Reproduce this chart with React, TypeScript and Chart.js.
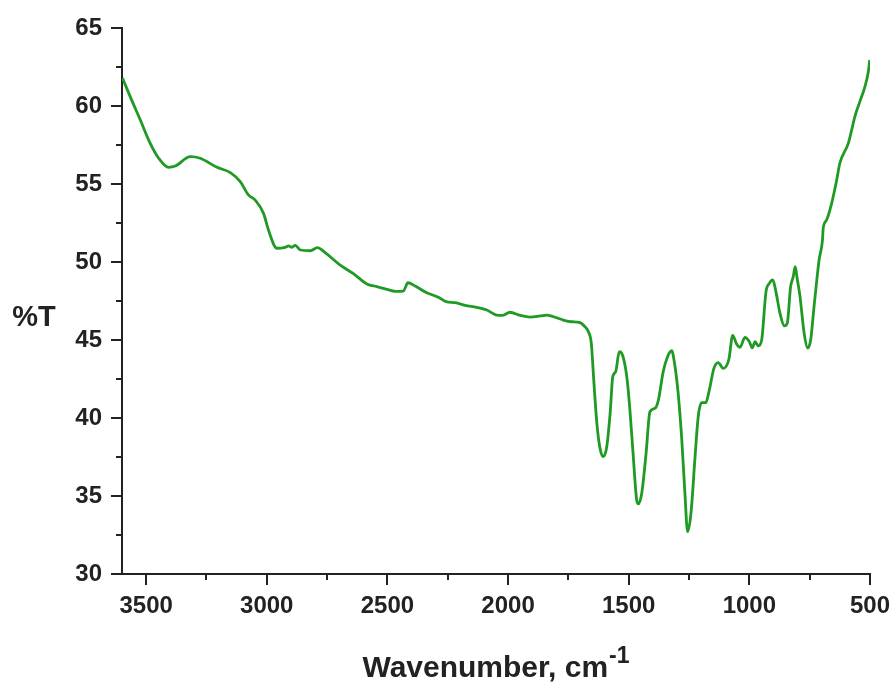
import React, { useEffect, useRef } from "react";
import { Chart, registerables } from "chart.js";

Chart.register(...registerables);

// Wavenumber (cm^-1) and transmittance (%T)
const wavenumbers = [
  3598, 3566, 3524, 3483, 3448, 3407, 3379, 3317, 3276, 3206, 3151, 3110, 3076, 3048, 3013, 2993,
  2958, 2924, 2910, 2896, 2882, 2861, 2820, 2790, 2758, 2700, 2641, 2585, 2544, 2502, 2468, 2434,
  2415, 2385, 2337, 2289, 2257, 2219, 2178, 2130, 2088, 2047, 2022, 1992, 1950, 1909, 1867, 1840,
  1812, 1771, 1736, 1705, 1681, 1667, 1655, 1644, 1632, 1619, 1605, 1591, 1577, 1566, 1554, 1539,
  1529, 1508, 1495, 1481, 1467, 1460, 1446, 1428, 1412, 1391, 1377, 1357, 1339, 1322, 1308, 1295,
  1280, 1267, 1256, 1242, 1225, 1212, 1198, 1181, 1166, 1147, 1129, 1108, 1085, 1069, 1053, 1039,
  1018, 1000, 988, 976, 963, 949, 931, 917, 903, 890, 873, 855, 843, 829, 818, 810,
  802, 790, 773, 758, 746, 732, 719, 711, 697, 694, 680, 659, 638, 625, 590, 576,
  563, 542, 521, 507, 501,
];
const transmittance = [
  61.8, 60.6, 59.1, 57.6, 56.65, 56.07, 56.15, 56.75, 56.65, 56.07, 55.73, 55.15, 54.3, 53.97, 53.1, 52.05,
  50.88, 50.94, 51.03, 50.94, 51.07, 50.77, 50.72, 50.92, 50.6, 49.85, 49.25, 48.59, 48.42, 48.25, 48.12, 48.14,
  48.67, 48.46, 48.03, 47.74, 47.46, 47.39, 47.22, 47.09, 46.92, 46.6, 46.58, 46.78, 46.58, 46.47, 46.54, 46.6,
  46.49, 46.28, 46.17, 46.13, 45.85, 45.53, 44.79, 42.22, 39.66, 38.06, 37.52, 38.16, 40.3, 42.65, 42.97, 44.25,
  44.15, 42.65, 40.51, 37.52, 34.74, 34.49, 35.17, 37.74, 40.4, 40.62, 41.15, 42.97, 43.93, 44.31, 43.29, 41.58,
  38.59, 35.17, 32.71, 33.89, 37.52, 40.08, 40.98, 40.98, 41.79, 43.18, 43.55, 43.18, 43.75, 45.3, 44.74, 44.53,
  45.17, 44.89, 44.5, 44.89, 44.62, 45.0, 48.1, 48.63, 48.85, 48.1, 46.71, 45.9, 46.07, 48.42, 49.06, 49.7,
  48.96, 47.78, 45.43, 44.48, 45.0, 47.13, 49.06, 50.13, 51.41, 52.16, 52.69, 53.76, 55.26, 56.33, 57.6, 58.46,
  59.31, 60.28, 61.24, 62.2, 62.95,
];

const xMajorTicks = [3500, 3000, 2500, 2000, 1500, 1000, 500];
const xMinorTicks = [3250, 2750, 2250, 1750, 1250, 750];
const yMajorTicks = [30, 35, 40, 45, 50, 55, 60, 65];
const yMinorTicks = [32.5, 37.5, 42.5, 47.5, 52.5, 57.5, 62.5];

const FONT = '"Liberation Sans", Arial, sans-serif';
const AXIS_COLOR = "#222222";

const tickPlugin = {
  id: "ftirTicksAndTitles",
  afterDraw(chart: any) {
    const ctx = chart.ctx;
    const xs = chart.scales.x;
    const ys = chart.scales.y;
    const { left, right, bottom } = chart.chartArea;
    ctx.save();
    ctx.strokeStyle = AXIS_COLOR;
    ctx.lineWidth = 2;
    ctx.beginPath();
    xs.ticks.forEach((t: any) => {
      const len = xMajorTicks.includes(t.value) ? 11 : 6;
      const px = Math.round(xs.getPixelForValue(t.value));
      ctx.moveTo(px, bottom);
      ctx.lineTo(px, bottom + len);
    });
    ys.ticks.forEach((t: any) => {
      const len = yMajorTicks.includes(t.value) ? 11 : 6;
      const py = Math.round(ys.getPixelForValue(t.value));
      ctx.moveTo(left, py);
      ctx.lineTo(left - len, py);
    });
    ctx.stroke();

    // Axis titles
    ctx.fillStyle = AXIS_COLOR;
    ctx.textBaseline = "alphabetic";
    const main = "Wavenumber, cm";
    const sup = "-1";
    ctx.font = `bold 30px ${FONT}`;
    const w1 = ctx.measureText(main).width;
    ctx.font = `bold 23px ${FONT}`;
    const w2 = ctx.measureText(sup).width;
    const cx = (left + right) / 2;
    const startX = cx - (w1 + w2 + 1) / 2;
    ctx.font = `bold 30px ${FONT}`;
    ctx.textAlign = "left";
    ctx.fillText(main, startX, 677);
    ctx.font = `bold 23px ${FONT}`;
    ctx.fillText(sup, startX + w1 + 1, 663);

    ctx.font = `bold 29px ${FONT}`;
    ctx.textAlign = "center";
    ctx.fillText("%T", 34, 326);
    ctx.restore();
  },
};

export default function App() {
  const canvasRef = useRef<HTMLCanvasElement | null>(null);

  useEffect(() => {
    if (!canvasRef.current) return;
    const points = wavenumbers.map((w, i) => ({ x: w, y: transmittance[i] }));
    const chart = new Chart(canvasRef.current, {
      type: "scatter",
      data: {
        datasets: [
          {
            data: points,
            showLine: true,
            borderColor: "#1f9a24",
            borderWidth: 2.8,
            pointRadius: 0,
            cubicInterpolationMode: "monotone",
            fill: false,
          },
        ],
      },
      options: {
        responsive: false,
        animation: false,
        events: [],
        layout: { padding: { left: 0, right: 26, top: 28, bottom: 0 } },
        plugins: {
          legend: { display: false },
          tooltip: { enabled: false },
          title: { display: false },
        },
        scales: {
          x: {
            type: "linear",
            reverse: true,
            min: 500,
            max: 3600,
            afterBuildTicks: (scale: any) => {
              scale.ticks = [...xMajorTicks, ...xMinorTicks]
                .sort((a, b) => a - b)
                .map((v) => ({ value: v }));
            },
            afterFit: (scale: any) => {
              scale.height = 110;
              scale.paddingLeft = 0;
              scale.paddingRight = 0;
            },
            grid: { display: true, drawOnChartArea: false, drawTicks: false },
            border: { display: true, color: AXIS_COLOR, width: 2 },
            ticks: {
              autoSkip: false,
              maxRotation: 0,
              padding: 18,
              color: AXIS_COLOR,
              font: { family: FONT, size: 24, weight: "bold" },
              callback: (value: any) => (xMajorTicks.includes(Number(value)) ? String(value) : ""),
            },
          },
          y: {
            type: "linear",
            min: 30,
            max: 65,
            afterBuildTicks: (scale: any) => {
              scale.ticks = [...yMajorTicks, ...yMinorTicks]
                .sort((a, b) => a - b)
                .map((v) => ({ value: v }));
            },
            afterFit: (scale: any) => {
              scale.width = 122;
              scale.paddingTop = 0;
              scale.paddingBottom = 0;
            },
            grid: { display: true, drawOnChartArea: false, drawTicks: false },
            border: { display: true, color: AXIS_COLOR, width: 2 },
            ticks: {
              autoSkip: false,
              padding: 20,
              color: AXIS_COLOR,
              font: { family: FONT, size: 24, weight: "bold" },
              callback: (value: any) => (yMajorTicks.includes(Number(value)) ? String(value) : ""),
            },
          },
        },
      },
      plugins: [tickPlugin],
    } as any);
    return () => chart.destroy();
  }, []);

  return (
    <div style={{ position: "fixed", left: 0, top: 0, width: 896, height: 684, background: "#ffffff" }}>
      <canvas ref={canvasRef} width={896} height={684} style={{ display: "block" }} />
    </div>
  );
}
